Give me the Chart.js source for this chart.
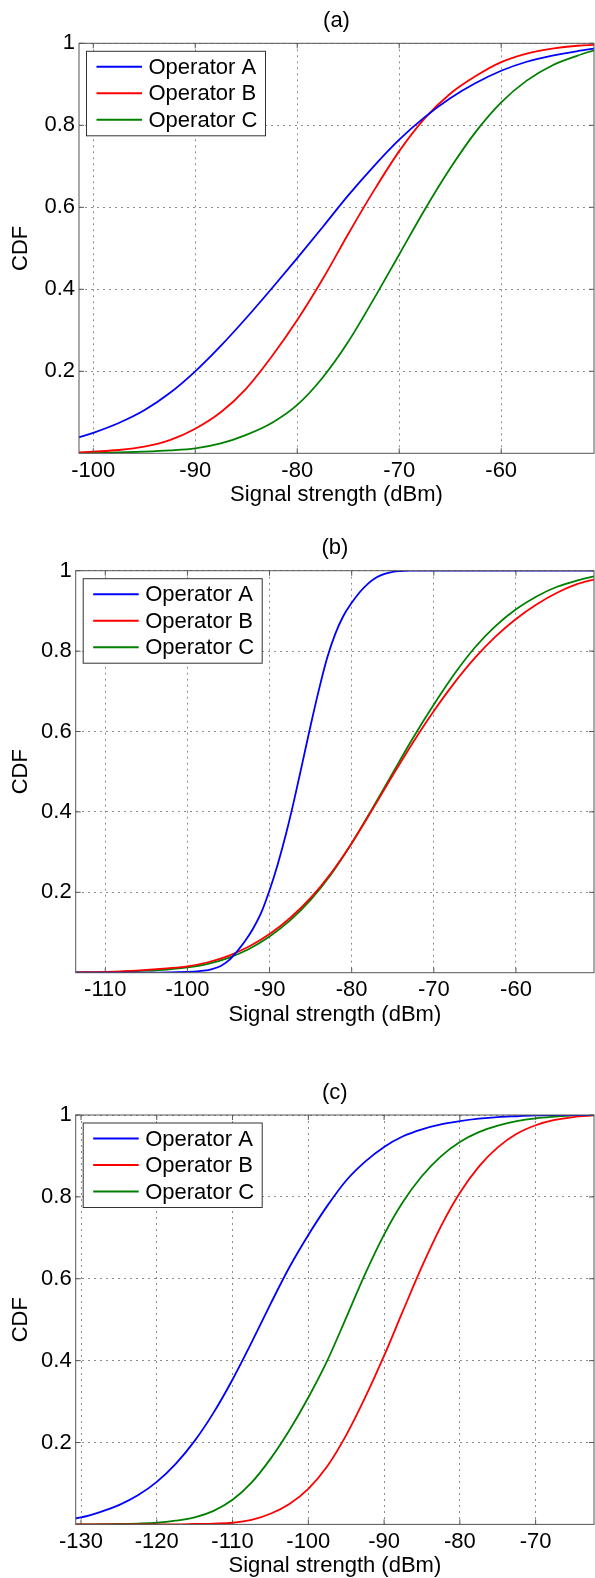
<!DOCTYPE html>
<html><head><meta charset="utf-8">
<script src="https://cdn.jsdelivr.net/npm/chart.js@4.4.0/dist/chart.umd.min.js"></script>
<style>
html,body{margin:0;padding:0;background:#fff;}
body{width:595px;height:1578px;position:relative;overflow:hidden;}
canvas{position:absolute;left:0;}
</style></head><body>
<canvas id="ca" width="595" height="520" style="top:0px"></canvas>
<canvas id="cb" width="595" height="530" style="top:520px"></canvas>
<canvas id="cc" width="595" height="528" style="top:1050px"></canvas>
<script>
// ---------- DATA ----------
const seriesNames = ['Operator A', 'Operator B', 'Operator C'];
const seriesColors = ['#0000ff', '#ff0000', '#008000'];
const yTicks = [0.2, 0.4, 0.6, 0.8, 1];
const yTickLabels = ['0.2', '0.4', '0.6', '0.8', '1'];

// Panel (a)
const xTicksA = [-100, -90, -80, -70, -60];
const xA = [-101.4, -100, -97.5, -95, -92.5, -90, -87.5, -85, -82.5, -80, -77.5, -75, -72.5, -70, -67.5, -65, -62.5, -60, -57.5, -55, -52.5, -50.9];
const aOpA = [0.039, 0.050, 0.074, 0.105, 0.147, 0.200, 0.262, 0.330, 0.402, 0.476, 0.552, 0.629, 0.700, 0.765, 0.820, 0.866, 0.903, 0.933, 0.955, 0.970, 0.981, 0.987];
const aOpB = [0.002, 0.004, 0.008, 0.016, 0.032, 0.060, 0.100, 0.158, 0.236, 0.325, 0.425, 0.535, 0.640, 0.737, 0.817, 0.877, 0.920, 0.954, 0.975, 0.987, 0.994, 0.996];
const aOpC = [0.001, 0.001, 0.002, 0.004, 0.007, 0.012, 0.024, 0.045, 0.074, 0.118, 0.185, 0.272, 0.376, 0.485, 0.594, 0.695, 0.784, 0.856, 0.909, 0.946, 0.970, 0.983];

// Panel (b)
const xTicksB = [-110, -100, -90, -80, -70, -60];
const xB_opA = [-113.6, -105, -100, -98, -97, -96, -95, -94, -93, -92, -91, -90, -89, -88, -87, -86, -85, -84, -83, -82, -81, -80, -79, -78, -77, -76, -75, -74, -73, -70, -60, -50.5];
const bOpA = [0, 0, 0.002, 0.005, 0.009, 0.016, 0.030, 0.052, 0.078, 0.110, 0.150, 0.205, 0.270, 0.345, 0.430, 0.522, 0.615, 0.703, 0.782, 0.843, 0.888, 0.920, 0.947, 0.968, 0.983, 0.992, 0.997, 0.999, 1, 1, 1, 1];
const xB = [-113.6, -110, -107.5, -105, -102.5, -100, -97.5, -95, -92.5, -90, -87.5, -85, -82.5, -80, -77.5, -75, -72.5, -70, -67.5, -65, -62.5, -60, -57.5, -55, -52.5, -50.5];
const bOpB = [0.001, 0.002, 0.004, 0.007, 0.011, 0.016, 0.026, 0.042, 0.065, 0.096, 0.136, 0.186, 0.248, 0.322, 0.405, 0.491, 0.574, 0.651, 0.721, 0.783, 0.836, 0.880, 0.916, 0.945, 0.967, 0.978];
const bOpC = [0.001, 0.001, 0.003, 0.005, 0.008, 0.013, 0.022, 0.037, 0.059, 0.090, 0.130, 0.181, 0.245, 0.322, 0.408, 0.497, 0.585, 0.667, 0.743, 0.809, 0.862, 0.904, 0.936, 0.960, 0.976, 0.986];

// Panel (c)
const xTicksC = [-130, -120, -110, -100, -90, -80, -70];
const xC = [-130.7, -130, -127.5, -125, -122.5, -120, -117.5, -115, -112.5, -110, -107.5, -105, -102.5, -100, -97.5, -95, -92.5, -90, -87.5, -85, -82.5, -80, -77.5, -75, -72.5, -70, -67.5, -65, -62.3];
const cOpA = [0.015, 0.017, 0.030, 0.047, 0.071, 0.104, 0.148, 0.204, 0.273, 0.354, 0.444, 0.538, 0.628, 0.707, 0.778, 0.840, 0.886, 0.922, 0.948, 0.965, 0.977, 0.985, 0.991, 0.995, 0.997, 0.999, 1, 1, 1];
const cOpB = [0, 0, 0, 0, 0, 0, 0, 0.001, 0.002, 0.004, 0.011, 0.026, 0.050, 0.087, 0.142, 0.218, 0.310, 0.412, 0.522, 0.630, 0.728, 0.810, 0.874, 0.921, 0.954, 0.975, 0.988, 0.995, 0.999];
const cOpC = [0, 0, 0.0005, 0.001, 0.002, 0.004, 0.009, 0.017, 0.033, 0.060, 0.102, 0.160, 0.230, 0.310, 0.400, 0.505, 0.612, 0.708, 0.788, 0.851, 0.899, 0.934, 0.958, 0.974, 0.985, 0.992, 0.996, 0.999, 1];

// ---------- RENDERING ----------
Chart.defaults.font.family = '"Liberation Sans", Arial, Helvetica, sans-serif';
Chart.defaults.font.size = 22;
Chart.defaults.color = '#000';

const FONT = '22px "Liberation Sans", Arial, sans-serif';

const decor = {
  id: 'decor',
  afterDraw(chart, args, o) {
    const ctx = chart.ctx, a = chart.chartArea, xs = chart.scales.x, ys = chart.scales.y;
    ctx.save();
    // frame and inward ticks
    ctx.strokeStyle = '#555'; ctx.lineWidth = 1;
    ctx.beginPath();
    xs.ticks.forEach(t => {
      const p = xs.getPixelForValue(t.value);
      ctx.moveTo(p, a.bottom); ctx.lineTo(p, a.bottom - 5);
      ctx.moveTo(p, a.top); ctx.lineTo(p, a.top + 5);
    });
    ys.ticks.forEach(t => {
      const p = ys.getPixelForValue(t.value);
      ctx.moveTo(a.left, p); ctx.lineTo(a.left + 5, p);
      ctx.moveTo(a.right, p); ctx.lineTo(a.right - 5, p);
    });
    ctx.stroke();
    ctx.strokeRect(a.left, a.top, a.right - a.left, a.bottom - a.top);
    // titles
    ctx.fillStyle = '#000'; ctx.font = FONT; ctx.textAlign = 'center'; ctx.textBaseline = 'middle';
    const cx = (a.left + a.right) / 2;
    ctx.fillText(o.title, cx, a.top - 22.5);
    ctx.fillText(o.xTitle, cx, a.bottom + 42);
    ctx.save();
    ctx.translate(21, (a.top + a.bottom) / 2);
    ctx.rotate(-Math.PI / 2);
    ctx.fillText(o.yTitle, 0, 0);
    ctx.restore();
    // legend
    const bx = a.left + 7.5, by = a.top + 8;
    ctx.fillStyle = '#fff'; ctx.fillRect(bx, by, 179, 84.5);
    ctx.strokeStyle = '#333'; ctx.lineWidth = 1; ctx.strokeRect(bx, by, 179, 84.5);
    chart.data.datasets.forEach((ds, i) => {
      const ry = a.top + 23.5 + i * 26.5;
      ctx.strokeStyle = ds.borderColor; ctx.lineWidth = 2;
      ctx.beginPath(); ctx.moveTo(a.left + 17.5, ry); ctx.lineTo(a.left + 63, ry); ctx.stroke();
      ctx.fillStyle = '#000'; ctx.textAlign = 'left'; ctx.textBaseline = 'middle';
      ctx.fillText(ds.label, a.left + 69.5, ry + 1);
    });
    ctx.restore();
  }
};

function pts(xs, ys) { return xs.map((x, i) => ({ x: x, y: ys[i] })); }

function makeChart(id, H, area, xmin, xmax, xTicks, title, series) {
  const datasets = series.map((s, i) => ({
    label: seriesNames[i],
    data: pts(s[0], s[1]),
    borderColor: seriesColors[i],
    backgroundColor: seriesColors[i],
    borderWidth: 1.8,
    pointRadius: 0,
    fill: false,
    cubicInterpolationMode: 'monotone'
  }));
  return new Chart(document.getElementById(id), {
    type: 'line',
    data: { datasets },
    options: {
      responsive: false,
      animation: false,
      devicePixelRatio: 1,
      layout: { padding: { left: 0, top: area.top, right: 595 - area.right, bottom: 0 } },
      plugins: {
        legend: { display: false },
        tooltip: { enabled: false },
        decor: { title: title, xTitle: 'Signal strength (dBm)', yTitle: 'CDF' }
      },
      scales: {
        x: {
          type: 'linear', min: xmin, max: xmax,
          afterFit: s => { s.height = H - area.bottom; },
          afterBuildTicks: s => { s.ticks = xTicks.map(v => ({ value: v })); },
          ticks: { autoSkip: false, maxRotation: 0, padding: 4, callback: v => String(v) },
          grid: { drawTicks: false, color: '#8c8c8c', lineWidth: 1 },
          border: { display: false, dash: [2, 4] }
        },
        y: {
          type: 'linear', min: 0, max: 1,
          afterFit: s => { s.width = area.left; },
          afterBuildTicks: s => { s.ticks = yTicks.map(v => ({ value: v })); },
          ticks: { padding: 4, callback: (v) => yTickLabels[yTicks.indexOf(v)] },
          grid: { drawTicks: false, color: '#8c8c8c', lineWidth: 1 },
          border: { display: false, dash: [2, 4] }
        }
      }
    },
    plugins: [decor]
  });
}

makeChart('ca', 520, { left: 79, top: 43.3, right: 594, bottom: 453.3 }, -101.4, -50.9, xTicksA, '(a)',
  [[xA, aOpA], [xA, aOpB], [xA, aOpC]]);
makeChart('cb', 530, { left: 75.7, top: 50.7, right: 594, bottom: 452.7 }, -113.6, -50.5, xTicksB, '(b)',
  [[xB_opA, bOpA], [xB, bOpB], [xB, bOpC]]);
makeChart('cc', 528, { left: 75.7, top: 65, right: 594, bottom: 474.4 }, -130.7, -62.3, xTicksC, '(c)',
  [[xC, cOpA], [xC, cOpB], [xC, cOpC]]);
</script></body></html>
